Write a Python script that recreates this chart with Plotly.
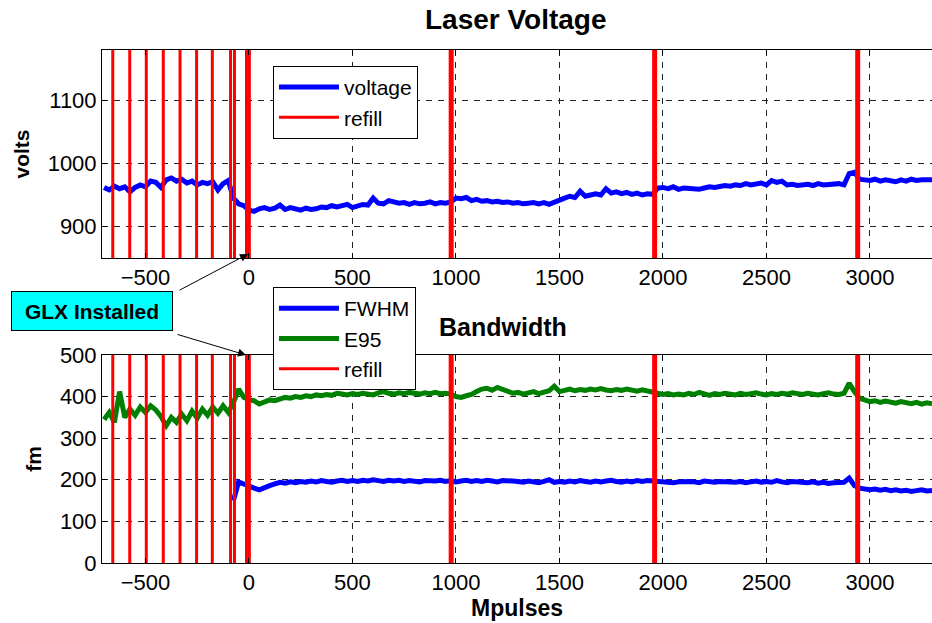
import numpy as np
import plotly.graph_objects as go

# ---------------- data ----------------
# sample grid in Mpulses (every 25 Mpulses)
mpulses = np.arange(-700, 3301, 25)

voltage = [
    962, 958, 964, 960, 963, 955, 962, 966,   # -700 .. -525
    963, 972, 970, 962, 974, 977, 972, 975,   # -500 .. -325
    969, 972, 966, 970, 968, 971, 958, 968,   # -300 .. -125
    973, 945, 936, 933, 926, 924, 928, 930,   # -100 .. 75
    927, 929, 934, 927, 930, 928, 926, 929,   # 100 .. 275
    927, 928, 931, 930, 933, 931, 933, 935,   # 300 .. 475
    930, 933, 935, 934, 945, 937, 936, 941,   # 500 .. 675
    938, 937, 938, 935, 938, 936, 937, 939,   # 700 .. 875
    936, 938, 937, 939, 945, 944, 946, 941,   # 900 .. 1075
    943, 940, 941, 939, 940, 938, 939, 937,   # 1100 .. 1275
    938, 936, 937, 938, 936, 938, 935, 939,   # 1300 .. 1475
    943, 945, 948, 946, 956, 948, 950, 952,   # 1500 .. 1675
    950, 960, 953, 955, 952, 954, 951, 953,   # 1700 .. 1875
    950, 952, 951, 961, 962, 960, 963, 959,   # 1900 .. 2075
    961, 960, 958, 959, 961, 963, 962, 964,   # 2100 .. 2275
    965, 964, 966, 965, 968, 966, 967, 969,   # 2300 .. 2475
    966, 973, 970, 972, 966, 967, 965, 966,   # 2500 .. 2675
    967, 965, 968, 966, 967, 966, 968, 966,   # 2700 .. 2875
    984, 986, 975, 974, 973, 975, 972, 974,   # 2900 .. 3075
    973, 971, 974, 972, 975, 973, 974, 975,   # 3100 .. 3275
    974,                                      # 3300
]

e95 = [
    345, 362, 338, 412, 350, 370, 355, 375,   # -700 .. -525
    362, 378, 368, 352, 330, 350, 338, 358,   # -500 .. -325
    342, 365, 348, 370, 355, 375, 360, 378,   # -300 .. -125
    362, 385, 418, 398, 392, 390, 382, 388,   # -100 .. 75
    392, 390, 395, 398, 396, 400, 398, 402,   # 100 .. 275
    400, 404, 402, 405, 403, 408, 406, 404,   # 300 .. 475
    407, 405, 408, 406, 404, 409, 412, 408,   # 500 .. 675
    406, 409, 407, 410, 408, 406, 409, 407,   # 700 .. 875
    410, 407, 408, 406, 400, 398, 402, 405,   # 900 .. 1075
    412, 418, 420, 415, 422, 418, 412, 408,   # 1100 .. 1275
    410, 406, 409, 412, 407, 410, 414, 425,   # 1300 .. 1475
    412, 415, 418, 414, 417, 415, 418, 416,   # 1500 .. 1675
    419, 416, 414, 417, 415, 418, 416, 413,   # 1700 .. 1875
    416, 414, 412, 408, 405, 407, 404, 406,   # 1900 .. 2075
    404, 408, 405, 410, 406, 403, 407, 405,   # 2100 .. 2275
    408, 406, 404, 408, 405, 407, 409, 406,   # 2300 .. 2475
    404, 407, 405, 408, 406, 409, 407, 405,   # 2500 .. 2675
    408, 406, 404, 407, 409, 406, 405, 408,   # 2700 .. 2875
    432, 412, 396, 392, 388, 390, 386, 389,   # 2900 .. 3075
    387, 384, 388, 386, 383, 386, 382, 385,   # 3100 .. 3275
    383,                                      # 3300
]

# FWHM only recorded from -75 Mpulses on
fwhm_x = mpulses[mpulses >= -75]
fwhm = [
    150, 195, 190, 184, 180, 176, 182,        # -75 .. 75
    186, 190, 194, 192, 195, 193, 196, 194,   # 100 .. 275
    197, 195, 198, 196, 194, 197, 199, 196,   # 300 .. 475
    198, 196, 199, 197, 200, 198, 196, 199,   # 500 .. 675
    197, 199, 196, 198, 197, 195, 198, 196,   # 700 .. 875
    197, 199, 196, 198, 195, 197, 199, 196,   # 900 .. 1075
    198, 196, 199, 197, 195, 198, 196, 197,   # 1100 .. 1275
    196, 194, 197, 195, 193, 196, 200, 194,   # 1300 .. 1475
    196, 194, 197, 195, 198, 196, 194, 197,   # 1500 .. 1675
    195, 197, 199, 196, 194, 197, 195, 198,   # 1700 .. 1875
    196, 198, 197, 195, 194, 196, 193, 195,   # 1900 .. 2075
    194, 196, 195, 193, 197, 195, 194, 196,   # 2100 .. 2275
    195, 197, 194, 196, 193, 195, 197, 194,   # 2300 .. 2475
    196, 194, 198, 195, 193, 196, 194, 195,   # 2500 .. 2675
    193, 195, 192, 194, 191, 193, 192, 194,   # 2700 .. 2875
    204, 186, 180, 178, 176, 178, 175, 177,   # 2900 .. 3075
    174, 176, 173, 175, 172, 174, 176, 173,   # 3100 .. 3275
    174,                                      # 3300
]

refill_early = [-658, -576, -496, -414, -333, -253, -177, -89, -70, -12, 2]
refill_late = [977, 1960, 2941]

x_ticks = [-500, 0, 500, 1000, 1500, 2000, 2500, 3000]
volt_ticks = [900, 1000, 1100]
bw_ticks = [0, 100, 200, 300, 400, 500]
x_range = [-710, 3300]
volt_range = [850, 1180]
bw_range = [0, 500]

assert len(voltage) == len(mpulses) and len(e95) == len(mpulses) and len(fwhm) == len(fwhm_x)

# ---------------- figure ----------------
FONT = "Liberation Sans, Arial, Helvetica, sans-serif"
BLUE, GREEN, RED = "#0000FF", "#008000", "#FF0000"


def vlines(xs, lo, hi):
    xx, yy = [], []
    for v in xs:
        xx += [v, v, None]
        yy += [lo, hi, None]
    return xx, yy


fig = go.Figure()

# top panel
fig.add_trace(go.Scatter(x=mpulses, y=voltage, mode="lines", name="voltage",
                         line=dict(color=BLUE, width=5), xaxis="x", yaxis="y", legend="legend"))
xx, yy = vlines(refill_early, *volt_range)
fig.add_trace(go.Scatter(x=xx, y=yy, mode="lines", name="refill",
                         line=dict(color=RED, width=3), xaxis="x", yaxis="y", legend="legend"))
xx, yy = vlines(refill_late, *volt_range)
fig.add_trace(go.Scatter(x=xx, y=yy, mode="lines", name="refill", showlegend=False,
                         line=dict(color=RED, width=5), xaxis="x", yaxis="y", legend="legend"))

# bottom panel
fig.add_trace(go.Scatter(x=fwhm_x, y=fwhm, mode="lines", name="FWHM",
                         line=dict(color=BLUE, width=5), xaxis="x2", yaxis="y2", legend="legend2"))
fig.add_trace(go.Scatter(x=mpulses, y=e95, mode="lines", name="E95",
                         line=dict(color=GREEN, width=5), xaxis="x2", yaxis="y2", legend="legend2"))
xx, yy = vlines(refill_early, *bw_range)
fig.add_trace(go.Scatter(x=xx, y=yy, mode="lines", name="refill",
                         line=dict(color=RED, width=3), xaxis="x2", yaxis="y2", legend="legend2"))
xx, yy = vlines(refill_late, *bw_range)
fig.add_trace(go.Scatter(x=xx, y=yy, mode="lines", name="refill", showlegend=False,
                         line=dict(color=RED, width=5), xaxis="x2", yaxis="y2", legend="legend2"))

axis_common = dict(
    showline=True, linecolor="black", linewidth=1,
    ticks="inside", ticklen=5, tickcolor="black",
    showgrid=True, gridcolor="#222222", gridwidth=1, griddash="6px,6px",
    zeroline=False, tickfont=dict(family=FONT, size=22, color="black"),
)

TOP_DOM = [0.5945, 1.0]
BOT_DOM = [0.0, 0.4055]

fig.update_layout(
    width=932, height=623,
    margin=dict(l=102, r=0, t=50, b=60),
    paper_bgcolor="white", plot_bgcolor="white",
    font=dict(family=FONT, color="black"),
    xaxis=dict(axis_common, domain=[0, 1], range=x_range, tickvals=x_ticks,
               anchor="y", mirror="ticks"),
    yaxis=dict(axis_common, domain=TOP_DOM, range=volt_range, tickvals=volt_ticks,
               anchor="x", mirror=False,
               title=dict(text="<b>volts</b>", font=dict(family=FONT, size=21), standoff=12)),
    xaxis2=dict(axis_common, domain=[0, 1], range=x_range, tickvals=x_ticks,
                anchor="y2", mirror="ticks",
                title=dict(text="<b>Mpulses</b>", font=dict(family=FONT, size=23), standoff=4)),
    yaxis2=dict(axis_common, domain=BOT_DOM, range=bw_range, tickvals=bw_ticks,
                anchor="x2", mirror=False,
                title=dict(text="<b>fm</b>", font=dict(family=FONT, size=21), standoff=12)),
    legend=dict(x=0.206, y=0.969, xanchor="left", yanchor="top",
                bgcolor="white", bordercolor="black", borderwidth=1,
                font=dict(family=FONT, size=21), itemwidth=60, tracegroupgap=0),
    legend2=dict(x=0.206, y=0.538, xanchor="left", yanchor="top",
                 bgcolor="white", bordercolor="black", borderwidth=1,
                 font=dict(family=FONT, size=21), itemwidth=60, tracegroupgap=0),
    showlegend=True,
)

annotations = [
    dict(text="<b>Laser Voltage</b>", x=(516 - 102) / 830, y=(563 - 19) / 513,
         xref="paper", yref="paper", xanchor="center", yanchor="middle",
         showarrow=False, font=dict(family=FONT, size=28)),
    dict(text="<b>Bandwidth</b>", x=(503 - 102) / 830, y=(563 - 327) / 513,
         xref="paper", yref="paper", xanchor="center", yanchor="middle",
         showarrow=False, font=dict(family=FONT, size=25)),
    dict(text="<b>GLX Installed</b>", x=(11 - 102) / 830, y=(563 - 311) / 513,
         xref="paper", yref="paper", xanchor="left", yanchor="middle",
         showarrow=False, width=158, height=36, align="center",
         bgcolor="#00FFFF", bordercolor="black", borderwidth=1, borderpad=1,
         font=dict(family=FONT, size=21, color="black")),
    dict(text="", x=(248 - 102) / 830, y=(563 - 254) / 513, xref="paper", yref="paper",
         showarrow=True, ax=-70, ay=37, arrowhead=2, arrowsize=1.6, arrowwidth=1,
         arrowcolor="black"),
    dict(text="", x=(246 - 102) / 830, y=(563 - 355) / 513, xref="paper", yref="paper",
         showarrow=True, ax=-70, ay=-21, arrowhead=2, arrowsize=1.6, arrowwidth=1,
         arrowcolor="black"),
]
fig.update_layout(annotations=annotations)

fig.write_html("out.html")
